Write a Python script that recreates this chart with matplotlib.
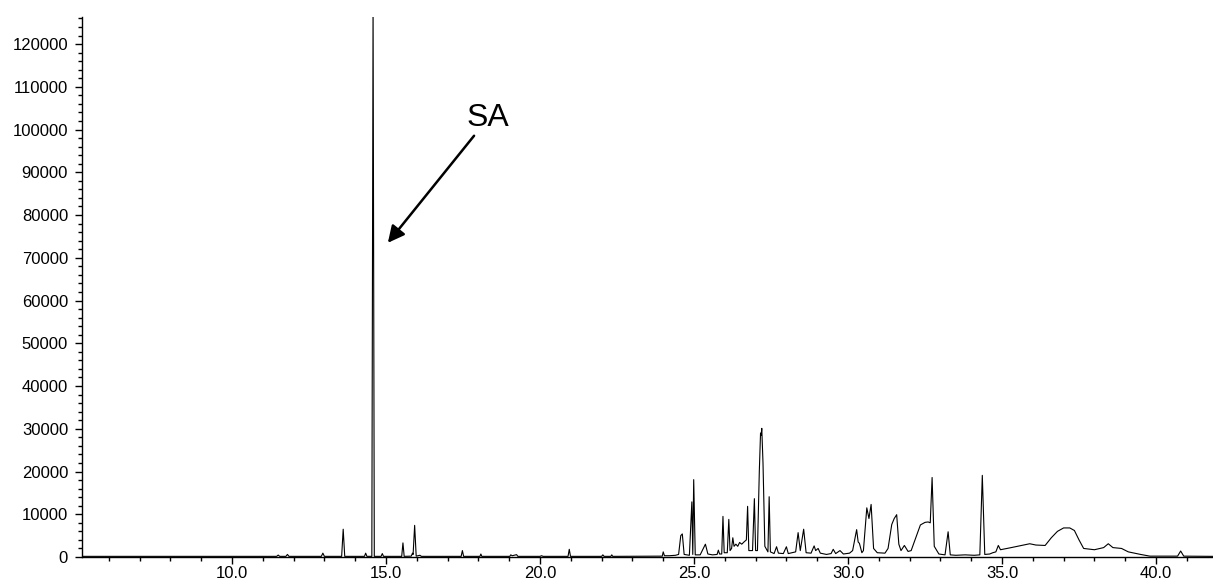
import matplotlib
matplotlib.use('Agg')
import matplotlib.pyplot as plt
from matplotlib.ticker import MultipleLocator, FormatStrFormatter

plt.rcParams['font.family'] = ['Liberation Sans', 'DejaVu Sans']

# retention time (min) and detector signal
rt = [5.13,
      11.45, 11.5, 11.55, 11.75, 11.8, 11.85,
      12.9, 12.95, 13.0,
      13.56, 13.61, 13.66,
      14.3, 14.34, 14.38,
      14.54, 14.58, 14.62,
      14.84, 14.88, 14.92,
      15.51, 15.55, 15.59,
      15.82, 15.86, 15.88, 15.93, 15.98, 16.1, 16.15,
      17.44, 17.48, 17.52,
      18.05, 18.08, 18.11,
      19.02, 19.05, 19.1, 19.24, 19.28,
      20.0, 20.05, 20.1,
      20.91, 20.95, 20.99,
      22.0, 22.04, 22.08, 22.3, 22.33, 22.36,
      23.5, 23.97, 24.0, 24.04, 24.2, 24.4,
      24.5, 24.57, 24.62, 24.68,
      24.85, 24.93, 24.96, 24.99, 25.04,
      25.2, 25.37, 25.45,
      25.6, 25.75, 25.79, 25.83,
      25.9, 25.94, 25.98,
      26.08, 26.13, 26.17,
      26.22, 26.26, 26.3, 26.36, 26.42, 26.48, 26.55, 26.62,
      26.7, 26.74, 26.78,
      26.9, 26.96, 27.0,
      27.06, 27.12, 27.16, 27.18, 27.2, 27.24, 27.3,
      27.4, 27.44, 27.48,
      27.6, 27.68, 27.74,
      27.9, 28.0, 28.06,
      28.3, 28.38, 28.45, 28.56, 28.64,
      28.8, 28.9, 28.95, 29.03, 29.1,
      29.3, 29.45, 29.52, 29.6, 29.74, 29.85,
      30.05, 30.15, 30.28, 30.33, 30.37, 30.45,
      30.5, 30.61, 30.68, 30.75, 30.83,
      30.95, 31.2, 31.3, 31.42, 31.5, 31.58, 31.65, 31.72,
      31.83, 31.95, 32.05, 32.2, 32.35, 32.5, 32.6, 32.67, 32.73, 32.8, 32.95,
      33.15, 33.25, 33.32,
      33.5, 33.8, 34.1,
      34.28, 34.36, 34.44,
      34.6, 34.7, 34.8, 34.88, 34.95,
      35.3, 35.7, 35.9, 36.1, 36.4,
      36.6, 36.8, 37.0, 37.2, 37.35, 37.5, 37.65,
      38.0, 38.3, 38.45, 38.6, 38.88, 39.1, 39.5, 39.8,
      40.7, 40.8, 40.9,
      41.85]

signal = [150,
          150, 450, 150, 150, 600, 150,
          150, 900, 150,
          150, 6500, 150,
          150, 900, 150,
          150, 130000, 150,
          150, 800, 150,
          150, 3300, 150,
          200, 900, 600, 7400, 200, 400, 150,
          150, 1500, 150,
          150, 700, 150,
          150, 500, 300, 550, 150,
          150, 300, 150,
          150, 1800, 150,
          150, 500, 150, 150, 500, 150,
          200, 200, 1200, 300, 300, 400,
          600, 5000, 5400, 600,
          400, 12900, 600, 18100, 500,
          500, 3000, 700,
          500, 600, 1600, 700,
          700, 9500, 1000,
          1000, 8800, 1500,
          2000, 4500, 2500, 3000, 2500, 3400, 3000, 3500,
          4000, 11850, 1500,
          1500, 13650, 1500,
          1500, 20000, 29000, 28500, 30100, 22000, 2500,
          1200, 14100, 1200,
          800, 2400, 900,
          800, 2400, 800,
          1200, 5700, 1500, 6500, 1000,
          900, 2600, 1500, 2000, 900,
          600, 800, 1800, 800, 1500, 700,
          900, 1500, 6400, 3500, 3200, 1000,
          1500, 11500, 9000, 12300, 2000,
          1000, 900, 2000, 7600, 9000, 9900, 3000, 1500,
          2700, 1300, 1500, 4500, 7500, 8100, 8200, 8000, 18600, 2500, 700,
          500, 5900, 500,
          400, 500, 400,
          500, 19100, 600,
          700, 1000, 1200, 2700, 1700,
          2200, 2800, 3100, 2800, 2700,
          4500, 6000, 6800, 6800, 6200, 4000, 2000,
          1700, 2200, 3100, 2200, 2000, 1200, 600, 200,
          200, 1400, 200,
          150]

fig = plt.figure(figsize=(12.13, 5.83), dpi=100)
ax = fig.add_axes([0.0676, 0.0446, 0.9324, 0.926])

ax.plot(rt, signal, color='black', linewidth=0.8)

ax.set_xlim(5.13, 41.85)
ax.set_ylim(0, 126300)

ax.xaxis.set_major_locator(MultipleLocator(5))
ax.xaxis.set_minor_locator(MultipleLocator(1))
ax.xaxis.set_major_formatter(FormatStrFormatter('%.1f'))
ax.yaxis.set_major_locator(MultipleLocator(10000))
ax.yaxis.set_minor_locator(MultipleLocator(2000))

for side in ['top', 'right']:
    ax.spines[side].set_visible(False)
ax.spines['left'].set_linewidth(1.0)
ax.spines['bottom'].set_linewidth(1.0)
ax.tick_params(which='major', length=5, width=1, labelsize=12)
ax.tick_params(axis='y', which='major', pad=5)
ax.tick_params(axis='x', which='major', pad=1.5)
ax.tick_params(which='minor', length=3, width=1)

# label for the big peak
ax.annotate('SA', xy=(15.06, 73500), xytext=(17.63, 99200),
            fontsize=23, ha='left', va='bottom',
            arrowprops=dict(arrowstyle='-|>', color='black', lw=1.8,
                            mutation_scale=25, shrinkA=0, shrinkB=0))

fig.savefig('out.png', dpi=100)
